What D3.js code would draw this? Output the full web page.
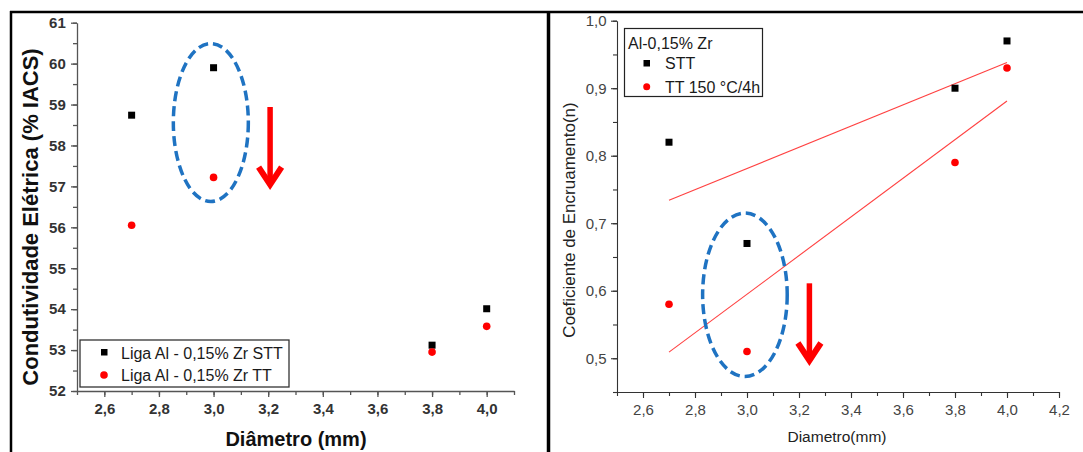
<!DOCTYPE html>
<html>
<head>
<meta charset="utf-8">
<script src="https://cdn.jsdelivr.net/npm/d3@7"></script>
<style>
  body { margin: 0; background: #fff; }
  svg { display: block; font-family: Arial, "Liberation Sans", sans-serif; }
</style>
</head>
<body>
<svg id="chart" width="1083" height="452"></svg>
<script>
// Data - left panel (conductivity)
var diametros = [2.7, 3.0, 3.8, 4.0];
var condSTT = [58.74, 59.90, 53.12, 54.01];
var condTT = [56.05, 57.22, 52.95, 53.58];
var leftLegend = ["Liga Al - 0,15% Zr STT", "Liga Al - 0,15% Zr TT"];

// Data - right panel (hardening coefficient)
var encSTT = [0.82, 0.67, 0.90, 0.97];
var encTT = [0.58, 0.51, 0.79, 0.93];
var fitX = [2.7, 4.0];
var fitSTT = [0.734, 0.938];   // linear fit lines
var fitTT = [0.509, 0.881];
var rightLegendTitle = "Al-0,15% Zr";
var rightLegend = ["STT", "TT 150 °C/4h"];

var leftXTicks = [2.6, 2.8, 3.0, 3.2, 3.4, 3.6, 3.8, 4.0];
var leftYTicks = [52, 53, 54, 55, 56, 57, 58, 59, 60, 61];
var rightXTicks = [2.6, 2.8, 3.0, 3.2, 3.4, 3.6, 3.8, 4.0, 4.2];
var rightYTicks = [0.5, 0.6, 0.7, 0.8, 0.9, 1.0];

var svg = d3.select("#chart");
var comma = function(f) { return function(d) { return d3.format(f)(d).replace(".", ","); }; };

// frames
svg.append("line").attr("x1", 10).attr("x2", 1083).attr("y1", 12).attr("y2", 12)
    .attr("stroke", "#000").attr("stroke-width", 2.5);
svg.append("line").attr("x1", 11).attr("x2", 11).attr("y1", 11).attr("y2", 452)
    .attr("stroke", "#000").attr("stroke-width", 2.5);
svg.append("line").attr("x1", 548.5).attr("x2", 548.5).attr("y1", 11).attr("y2", 452)
    .attr("stroke", "#000").attr("stroke-width", 3.5);

// helper for axis with minor ticks
function drawAxis(g, axisFn, scale, major, minor, fmt, size, minorSize) {
    g.call(axisFn(scale).tickValues(minor).tickSize(minorSize).tickSizeOuter(0).tickFormat(""));
    var gm = g.append("g");
    gm.call(axisFn(scale).tickValues(major).tickSize(size).tickSizeOuter(0).tickFormat(fmt));
    gm.select(".domain").remove();
    return gm;
}

// ---------- LEFT PANEL ----------
var xL = d3.scaleLinear().domain([2.5, 4.1]).range([77, 514]);
var yL = d3.scaleLinear().domain([52, 61]).range([391, 22.7]);

var gxL = svg.append("g").attr("transform", "translate(0," + yL(52) + ")");
var gxLm = drawAxis(gxL, d3.axisBottom, xL, leftXTicks, d3.range(25, 42).map(function(d){return d/10;}), comma(".1f"), 6, 4);
var gyL = svg.append("g").attr("transform", "translate(" + xL(2.5) + ",0)");
var gyLm = drawAxis(gyL, d3.axisLeft, yL, leftYTicks, d3.range(104, 123).map(function(d){return d/2;}), d3.format("d"), 6, 4);

[gxL, gyL].forEach(function(g) {
    g.selectAll("path, line").attr("stroke", "#555").attr("stroke-width", 1.3);
});
gxLm.selectAll("text").attr("font-size", 15).attr("font-weight", "bold").attr("fill", "#333").attr("dy", "0.95em");
gyLm.selectAll("text").attr("font-size", 15).attr("font-weight", "bold").attr("fill", "#333").attr("dx", "-0.15em");

svg.append("text")
    .attr("transform", "translate(38," + 217 + ") rotate(-90)")
    .attr("text-anchor", "middle")
    .attr("font-size", 22).attr("font-weight", "bold").attr("fill", "#111")
    .text("Condutividade Elétrica (% IACS)");
svg.append("text")
    .attr("x", 296).attr("y", 446)
    .attr("text-anchor", "middle")
    .attr("font-size", 20).attr("font-weight", "bold").attr("fill", "#111")
    .text("Diâmetro (mm)");

// ellipse + arrow annotation (left)
svg.append("ellipse")
    .attr("cx", xL(2.99)).attr("cy", yL(58.56)).attr("rx", 37.5).attr("ry", 79)
    .attr("fill", "none").attr("stroke", "#1f73c2").attr("stroke-width", 3.5)
    .attr("stroke-dasharray", "10,5");

function arrow(x, yTop, yTip) {
    svg.append("line").attr("x1", x).attr("x2", x).attr("y1", yTop).attr("y2", yTip - 6)
        .attr("stroke", "#ff0000").attr("stroke-width", 5.5);
    svg.append("polyline")
        .attr("points", [[x - 11.5, yTip - 21], [x, yTip - 3.5], [x + 11.5, yTip - 21]].join(" "))
        .attr("fill", "none").attr("stroke", "#ff0000").attr("stroke-width", 6)
        .attr("stroke-linejoin", "miter");
}
arrow(xL(3.207), yL(58.94), yL(56.96));

// points
svg.append("g").selectAll("rect").data(diametros).enter().append("rect")
    .attr("x", function(d) { return xL(d) - 3.5; })
    .attr("y", function(d, i) { return yL(condSTT[i]) - 3.5; })
    .attr("width", 7).attr("height", 7).attr("fill", "#000");
svg.append("g").selectAll("circle").data(diametros).enter().append("circle")
    .attr("cx", function(d) { return xL(d); })
    .attr("cy", function(d, i) { return yL(condTT[i]); })
    .attr("r", 3.8).attr("fill", "#ff0000");

// legend (left)
var lgL = svg.append("g");
lgL.append("rect").attr("x", 80).attr("y", 340).attr("width", 209).attr("height", 47)
    .attr("fill", "#fff").attr("stroke", "#333").attr("stroke-width", 1.3);
lgL.append("rect").attr("x", 101).attr("y", 349).attr("width", 6.5).attr("height", 6.5).attr("fill", "#000");
lgL.append("circle").attr("cx", 104).attr("cy", 375).attr("r", 3.8).attr("fill", "#ff0000");
lgL.selectAll("text").data(leftLegend).enter().append("text")
    .attr("x", 121).attr("y", function(d, i) { return 358.5 + i * 22; })
    .attr("font-size", 16).attr("fill", "#1a1a1a").text(function(d) { return d; });

// ---------- RIGHT PANEL ----------
var xR = d3.scaleLinear().domain([2.5, 4.2]).range([617, 1059]);
var yR = d3.scaleLinear().domain([0.45, 1.0]).range([392, 20.7]);

var gxR = svg.append("g").attr("transform", "translate(0," + yR(0.45) + ")");
var gxRm = drawAxis(gxR, d3.axisBottom, xR, rightXTicks, d3.range(25, 43).map(function(d){return d/10;}), comma(".1f"), 6, 4);
var gyR = svg.append("g").attr("transform", "translate(" + xR(2.5) + ",0)");
var gyRm = drawAxis(gyR, d3.axisLeft, yR, rightYTicks, d3.range(9, 21).map(function(d){return d/20;}), comma(".1f"), 6, 4);

[gxR, gyR].forEach(function(g) {
    g.selectAll("path, line").attr("stroke", "#333").attr("stroke-width", 1.1);
});
gxRm.selectAll("text").attr("font-size", 15).attr("fill", "#444").attr("dy", "0.95em");
gyRm.selectAll("text").attr("font-size", 15).attr("fill", "#444").attr("dx", "-0.1em");

svg.append("text")
    .attr("transform", "translate(575," + 220 + ") rotate(-90)")
    .attr("text-anchor", "middle")
    .attr("font-size", 17).attr("fill", "#222")
    .text("Coeficiente de Encruamento(n)");
svg.append("text")
    .attr("x", 837).attr("y", 442)
    .attr("text-anchor", "middle")
    .attr("font-size", 15.5).attr("fill", "#222")
    .text("Diametro(mm)");

// fit lines
var fitLine = d3.line().x(function(d) { return xR(d[0]); }).y(function(d) { return yR(d[1]); });
[fitSTT, fitTT].forEach(function(f) {
    svg.append("path").attr("d", fitLine(d3.zip(fitX, f)))
        .attr("fill", "none").attr("stroke", "#ff2020").attr("stroke-width", 1.1).attr("stroke-opacity", 0.85);
});

// ellipse + arrow annotation (right)
svg.append("ellipse")
    .attr("cx", xR(2.992)).attr("cy", yR(0.594)).attr("rx", 42.3).attr("ry", 81.7)
    .attr("fill", "none").attr("stroke", "#1f73c2").attr("stroke-width", 3.5)
    .attr("stroke-dasharray", "10,5");
arrow(xR(3.24), yR(0.611), yR(0.4915));

svg.append("g").selectAll("rect").data(diametros).enter().append("rect")
    .attr("x", function(d) { return xR(d) - 3.5; })
    .attr("y", function(d, i) { return yR(encSTT[i]) - 3.5; })
    .attr("width", 7).attr("height", 7).attr("fill", "#000");
svg.append("g").selectAll("circle").data(diametros).enter().append("circle")
    .attr("cx", function(d) { return xR(d); })
    .attr("cy", function(d, i) { return yR(encTT[i]); })
    .attr("r", 3.8).attr("fill", "#ff0000");

// legend (right)
var lgR = svg.append("g");
lgR.append("rect").attr("x", 624.5).attr("y", 28.5).attr("width", 138).attr("height", 68)
    .attr("fill", "#fff").attr("stroke", "#222").attr("stroke-width", 1.2);
lgR.append("text").attr("x", 628).attr("y", 49).attr("font-size", 16).attr("fill", "#1a1a1a").text(rightLegendTitle);
lgR.append("rect").attr("x", 643.5).attr("y", 60).attr("width", 6.5).attr("height", 6.5).attr("fill", "#000");
lgR.append("circle").attr("cx", 646.7).attr("cy", 86.7).attr("r", 3.5).attr("fill", "#ff0000");
lgR.selectAll("text.item").data(rightLegend).enter().append("text").attr("class", "item")
    .attr("x", 665).attr("y", function(d, i) { return 69 + i * 23.5; })
    .attr("font-size", 16).attr("fill", "#1a1a1a").text(function(d) { return d; });
</script>
</body>
</html>
